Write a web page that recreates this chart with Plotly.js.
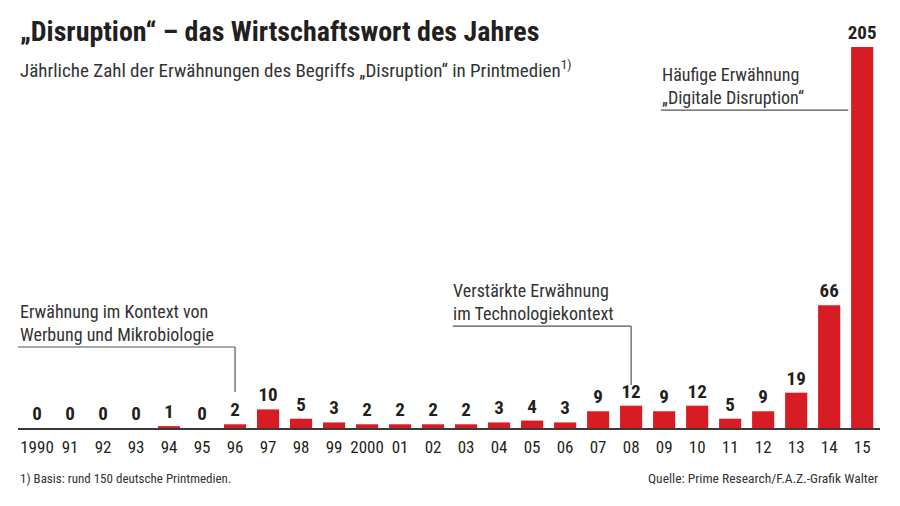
<!DOCTYPE html>
<html>
<head>
<meta charset="utf-8">
<script src="https://cdn.plot.ly/plotly-3.0.1.min.js"></script>
<style>html,body{margin:0;padding:0;background:#fff}#chart{width:900px;height:506px}</style>
</head>
<body>
<div id="chart"></div>
<script>
const years = ['1990','91','92','93','94','95','96','97','98','99','2000','01','02','03','04','05','06','07','08','09','10','11','12','13','14','15'];
const mentions = [0,0,0,0,1,0,2,10,5,3,2,2,2,2,3,4,3,9,12,9,12,5,9,19,66,205];

const FONT = '"Roboto Condensed", "DejaVu Sans Condensed", sans-serif';
const DARK = '#231f20';
const RED = '#d71c24';
const LINE = '#555555';
const TXT = '#333333';

const trace = {
  type: 'bar',
  x: years,
  y: mentions,
  marker: {color: RED},
  text: mentions.map(String),
  textposition: 'outside',
  constraintext: 'none',
  cliponaxis: false,
  textfont: {family: FONT, size: 19, color: DARK, weight: 'bold'},
  hoverinfo: 'x+y'
};

function line(text, px, py, size) {
  return {xref:'paper', yref:'paper', x:(px-18)/862, y:(428-py)/409, xanchor:'left', yanchor:'middle',
          showarrow:false, text:text, font:{family:FONT, size:size, color:TXT}};
}

const layout = {
  width: 900, height: 506,
  margin: {l: 18, r: 20, t: 19, b: 78},
  paper_bgcolor: '#fff', plot_bgcolor: '#fff',
  font: {family: FONT, color: DARK},
  showlegend: false,
  bargap: 0.33,
  xaxis: {
    type: 'category',
    range: [-0.576, 25.54],
    showline: true, linecolor: '#3a3a3a', linewidth: 1.5,
    showgrid: false, zeroline: false, ticks: '',
    tickangle: 0,
    ticklabelstandoff: 3,
    tickfont: {family: FONT, size: 17, color: DARK},
    fixedrange: true
  },
  yaxis: {
    range: [0, 220],
    visible: false, showgrid: false, zeroline: false,
    fixedrange: true
  },
  shapes: [
    {type:'line', xref:'x', yref:'paper', x0:-0.576, x1:6, y0:0.198, y1:0.198, line:{color:LINE, width:1.2}},
    {type:'line', xref:'x', yref:'paper', x0:6, x1:6, y0:0.198, y1:0.088, line:{color:LINE, width:1.2}},
    {type:'line', xref:'x', yref:'paper', x0:12.6, x1:18, y0:0.249, y1:0.249, line:{color:LINE, width:1.2}},
    {type:'line', xref:'x', yref:'paper', x0:18, x1:18, y0:0.249, y1:0.105, line:{color:LINE, width:1.2}},
    {type:'line', xref:'x', yref:'paper', x0:18.9, x1:24.58, y0:0.777, y1:0.777, line:{color:LINE, width:1.2}}
  ],
  annotations: [
    {xref:'paper', yref:'paper', x:0, y:(428-32)/409, xanchor:'left', yanchor:'middle', showarrow:false,
     text:'<b>„Disruption“ – das Wirtschaftswort des Jahres</b>', font:{family:FONT, size:28, color:DARK}},
    line('Jährliche Zahl der Erwähnungen des Begriffs „Disruption“ in Printmedien<sup>1)</sup>', 18, 70, 19),
    line('Erwähnung im Kontext von', 18, 311, 18),
    line('Werbung und Mikrobiologie', 18, 334, 18),
    line('Verstärkte Erwähnung', 451, 290, 18),
    line('im Technologiekontext', 451, 313, 18),
    line('Häufige Erwähnung', 660, 74, 18),
    line('„Digitale Disruption“', 660, 97, 18),
    line('1) Basis: rund 150 deutsche Printmedien.', 18, 478, 13),
    {xref:'paper', yref:'paper', x:1, y:(428-478)/409, xanchor:'right', yanchor:'middle', showarrow:false,
     text:'Quelle: Prime Research/F.A.Z.-Grafik Walter', font:{family:FONT, size:13.5, color:TXT}}
  ]
};

Plotly.newPlot('chart', [trace], layout, {displayModeBar: false, staticPlot: true});
</script>
</body>
</html>
